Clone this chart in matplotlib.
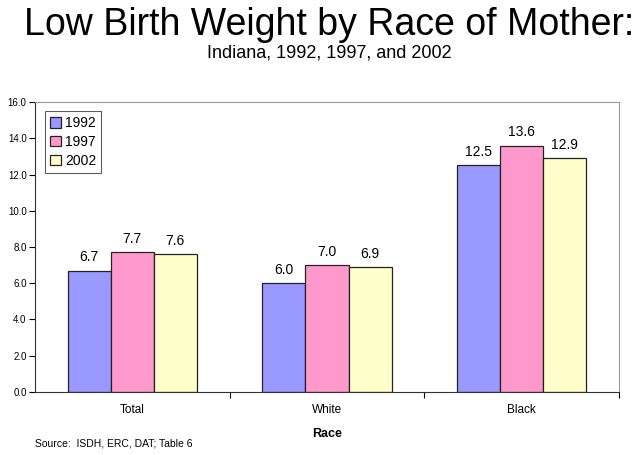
import numpy as np
import matplotlib.pyplot as plt

plt.rcParams['font.family'] = ['Liberation Sans', 'DejaVu Sans']

races = ['Total', 'White', 'Black']
years = ['1992', '1997', '2002']
v1992 = [6.7, 6.0, 12.5]
v1997 = [7.7, 7.0, 13.6]
v2002 = [7.6, 6.9, 12.9]
colors = ['#9999FF', '#FF99CC', '#FFFFCC']

fig = plt.figure(figsize=(6.39, 4.55), dpi=100)
ax = fig.add_axes([0.0548, 0.1385, 0.9139, 0.6373])

x = np.arange(len(races))
w = 0.221
for i, (vals, yr) in enumerate(zip([v1992, v1997, v2002], years)):
    bars = ax.bar(x + (i - 1) * w, vals, w, color=colors[i], edgecolor='#222222',
                  linewidth=0.9, label=yr)
    for b, v in zip(bars, vals):
        ax.text(b.get_x() + b.get_width() / 2, v + 0.35, f'{v:.1f}',
                ha='center', va='bottom', fontsize=10)

ax.set_xlim(-0.5, 2.5)
ax.set_ylim(0, 16)
ax.set_yticks(np.arange(0, 16.1, 2))
ax.set_yticklabels([f'{t:.1f}' for t in np.arange(0, 16.1, 2)], fontsize=7)
ax.set_xticks([0.5, 1.5, 2.5])
ax.set_xticklabels([])
ax.set_xticks(x, minor=True)
ax.set_xticklabels(races, minor=True, fontsize=8.5)
ax.tick_params(axis='x', which='minor', length=0, pad=9)
ax.tick_params(axis='x', which='major', length=4, direction='out')
ax.tick_params(axis='y', length=4, direction='out', pad=2)

for s in ['top', 'right']:
    ax.spines[s].set_color('#999999')
for s in ['left', 'bottom']:
    ax.spines[s].set_color('#333333')

ax.set_xlabel('Race', fontsize=9, fontweight='bold', labelpad=8)

leg = ax.legend(loc='upper left', bbox_to_anchor=(0.017, 0.968), fontsize=10,
                frameon=True, fancybox=False, edgecolor='#333333',
                handlelength=0.8, handleheight=0.8, handletextpad=0.3,
                borderpad=0.35, labelspacing=0.35, borderaxespad=0)
leg.get_frame().set_linewidth(0.8)

fig.text(0.515, 0.945, 'Low Birth Weight by Race of Mother:', ha='center', va='center',
         fontsize=27)
fig.text(0.515, 0.883, 'Indiana, 1992, 1997, and 2002', ha='center', va='center',
         fontsize=13)
fig.text(0.055, 0.026, 'Source:  ISDH, ERC, DAT; Table 6', ha='left', va='center',
         fontsize=7.5)

fig.savefig('out.png', dpi=100)
